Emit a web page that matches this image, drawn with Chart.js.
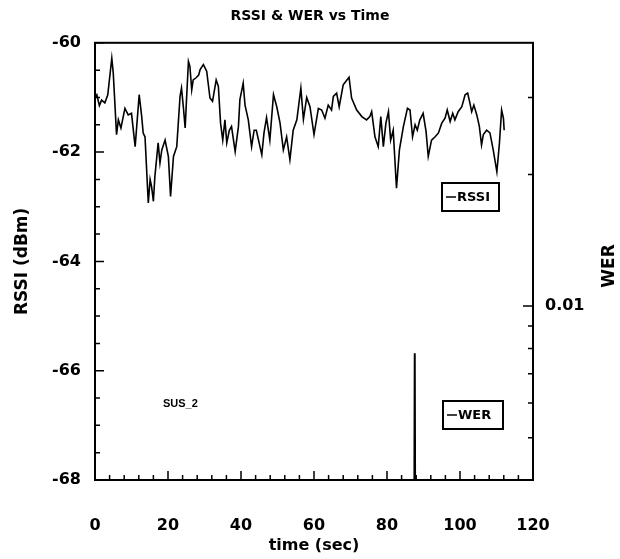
<!DOCTYPE html>
<html>
<head>
<meta charset="utf-8">
<title>RSSI & WER vs Time</title>
<script src="https://cdn.jsdelivr.net/npm/chart.js@4"></script>
<style>
  html, body { margin: 0; padding: 0; background: #fff; }
  #wrap { width: 620px; height: 559px; }
</style>
</head>
<body>
<div id="wrap"><canvas id="rssiChart"></canvas></div>
<script>
// received signal strength, sampled over the run
const rssiTime = [
  0, 0.5, 1.2, 1.8, 2.7, 3.5, 4.6, 5.0, 5.9, 6.4,
  7.1, 8.2, 9.1, 10.0, 11.0, 12.1, 12.8, 13.2, 13.7, 14.6,
  15.1, 15.5, 16.0, 16.4, 17.3, 17.8, 18.3, 19.2, 20.1, 20.7,
  21.5, 22.4, 23.3, 23.7, 24.2, 24.7, 25.1, 25.6, 26.0, 26.5,
  26.9, 27.7, 28.4, 28.8, 29.7, 30.6, 31.5, 32.2, 33.2, 33.8,
  34.4, 35.0, 35.6, 36.1, 36.8, 37.4, 38.4, 39.3, 39.7, 40.6,
  41.1, 42.0, 42.9, 43.6, 44.2, 45.7, 46.3, 47.0, 47.9, 48.9,
  49.8, 50.7, 51.6, 52.5, 53.4, 54.3, 55.3, 56.4, 57.1, 58.0,
  58.9, 60.0, 61.2, 62.1, 63.0, 63.9, 64.8, 65.3, 66.2, 66.9,
  68.0, 69.6, 70.3, 71.7, 73.1, 74.4, 75.3, 75.8, 76.7, 77.6,
  78.3, 79.0, 79.7, 80.4, 81.0, 81.7, 82.6, 83.4, 84.5, 85.6,
  86.3, 87.0, 87.7, 88.3, 89.0, 89.9, 90.7, 91.3, 92.2, 93.2,
  94.1, 95.0, 95.9, 96.5, 97.3, 98.0, 98.6, 99.5, 100.5, 101.4,
  102.1, 102.7, 103.2, 103.8, 104.6, 105.3, 105.9, 106.4, 107.3, 108.2,
  109.1, 110.1, 110.8, 111.4, 111.9, 112.1
];
const rssiDbm = [
  -61.0, -60.95, -61.15, -61.05, -61.1, -60.95, -60.28, -60.55, -61.68, -61.41,
  -61.56, -61.2, -61.32, -61.29, -61.9, -60.95, -61.35, -61.65, -61.72, -62.93,
  -62.5, -62.63, -62.9, -62.45, -61.83, -62.2, -61.96, -61.78, -62.08, -62.81,
  -62.08, -61.9, -60.98, -60.83, -61.17, -61.56, -61.0, -60.34, -60.43, -60.86,
  -60.68, -60.64, -60.59, -60.49, -60.4, -60.52, -61.01, -61.07, -60.68, -60.8,
  -61.47, -61.78, -61.41, -61.83, -61.6, -61.53, -61.99, -61.53, -61.04, -60.74,
  -61.14, -61.41, -61.9, -61.6, -61.6, -62.05, -61.65, -61.37, -61.78, -60.95,
  -61.17, -61.47, -61.96, -61.72, -62.14, -61.6, -61.41, -60.83, -61.4, -61.0,
  -61.17, -61.68, -61.2, -61.23, -61.38, -61.14, -61.23, -60.98, -60.92, -61.17,
  -60.77, -60.63, -61.01, -61.23, -61.35, -61.41, -61.35, -61.26, -61.72, -61.9,
  -61.35, -61.9, -61.47, -61.26, -61.78, -61.6, -62.66, -61.96, -61.53, -61.2,
  -61.23, -61.72, -61.5, -61.6, -61.41, -61.29, -61.62, -62.08, -61.78, -61.72,
  -61.65, -61.47, -61.38, -61.23, -61.44, -61.29, -61.41, -61.26, -61.17, -60.95,
  -60.92, -61.1, -61.26, -61.14, -61.32, -61.53, -61.87, -61.68, -61.6, -61.65,
  -61.96, -62.36, -61.84, -61.23, -61.38, -61.6
];

// word error rate: one burst of errors, zero elsewhere (off the log axis)
const werTime = [87.2, 87.6, 88.0];
const werValue = [0.0005, 0.0078, 0.0005];

const timeTicks = [0, 20, 40, 60, 80, 100, 120];
const rssiTicks = [-68, -66, -64, -62, -60];
const werTicks = [0.01];
const werMinorTicks = [0.004, 0.005, 0.006, 0.007, 0.008, 0.009, 0.02, 0.03];

Chart.defaults.font.family = "'DejaVu Sans', sans-serif";
Chart.defaults.font.weight = 'bold';
Chart.defaults.color = '#000';

// frame, inward tick marks, legend boxes and the right-hand axis title
const axisMarks = {
  id: 'axisMarks',
  afterDraw(chart) {
    const { ctx, chartArea: a, scales: { x, y, y2 } } = chart;
    ctx.save();
    ctx.strokeStyle = '#000';
    ctx.lineWidth = 1.5;

    ctx.beginPath();
    for (let t = 0; t <= 120; t += 4) {
      const px = x.getPixelForValue(t);
      const len = t % 20 === 0 ? 9 : 5;
      ctx.moveTo(px, a.bottom);
      ctx.lineTo(px, a.bottom - len);
    }
    for (let v = -68; v <= -60; v += 0.5) {
      const py = y.getPixelForValue(v);
      const len = v % 2 === 0 ? 9 : 5;
      ctx.moveTo(a.left, py);
      ctx.lineTo(a.left + len, py);
    }
    werTicks.forEach(v => {
      const py = y2.getPixelForValue(v);
      ctx.moveTo(a.right, py);
      ctx.lineTo(a.right - 10, py);
    });
    werMinorTicks.forEach(v => {
      const py = y2.getPixelForValue(v);
      ctx.moveTo(a.right, py);
      ctx.lineTo(a.right - 5, py);
    });
    ctx.stroke();

    ctx.lineWidth = 2;
    ctx.strokeRect(a.left, a.top, a.right - a.left, a.bottom - a.top);

    // per-series legend boxes
    const boxes = [
      { label: 'RSSI', x: 442, y: 183, w: 57, h: 28 },
      { label: 'WER', x: 443, y: 401, w: 60, h: 28 }
    ];
    ctx.font = "bold 13px 'DejaVu Sans', sans-serif";
    ctx.textBaseline = 'middle';
    ctx.textAlign = 'left';
    ctx.fillStyle = '#000';
    boxes.forEach(b => {
      ctx.lineWidth = 2;
      ctx.strokeRect(b.x, b.y, b.w, b.h);
      ctx.lineWidth = 1.5;
      ctx.beginPath();
      ctx.moveTo(b.x + 4, b.y + b.h / 2);
      ctx.lineTo(b.x + 14, b.y + b.h / 2);
      ctx.stroke();
      ctx.fillText(b.label, b.x + 15, b.y + b.h / 2 + 1);
    });

    // run identifier
    ctx.font = "bold 11px 'Liberation Sans Narrow', 'Liberation Sans', sans-serif";
    ctx.fillText('SUS_2', 163, 404);

    // right axis title, reading upwards
    ctx.font = "bold 17px 'DejaVu Sans', sans-serif";
    ctx.translate(610, 266);
    ctx.rotate(-Math.PI / 2);
    ctx.textAlign = 'center';
    ctx.fillText('WER', 0, 0);
    ctx.restore();
  }
};

new Chart(document.getElementById('rssiChart'), {
  type: 'line',
  data: {
    datasets: [
      {
        label: 'RSSI',
        data: rssiTime.map((t, i) => ({ x: t, y: rssiDbm[i] })),
        borderColor: '#000',
        borderWidth: 1.6,
        pointRadius: 0,
        tension: 0,
        xAxisID: 'x',
        yAxisID: 'y'
      },
      {
        label: 'WER',
        data: werTime.map((t, i) => ({ x: t, y: werValue[i] })),
        borderColor: '#000',
        borderWidth: 2,
        pointRadius: 0,
        tension: 0,
        clip: 0,
        xAxisID: 'x',
        yAxisID: 'y2'
      }
    ]
  },
  options: {
    responsive: true,
    maintainAspectRatio: false,
    animation: false,
    layout: { padding: 0 },
    plugins: {
      legend: { display: false },
      tooltip: { enabled: false },
      title: {
        display: true,
        text: 'RSSI & WER vs Time',
        font: { size: 14, weight: 'bold' },
        color: '#000',
        padding: { top: 8, bottom: 18 }
      }
    },
    scales: {
      x: {
        type: 'linear',
        position: 'bottom',
        min: 0,
        max: 120,
        afterBuildTicks: s => { s.ticks = timeTicks.map(v => ({ value: v })); },
        afterFit: s => { s.height = 79; },
        grid: { display: false, drawTicks: false },
        border: { display: false },
        ticks: { padding: 36, font: { size: 16, weight: 'bold' }, maxRotation: 0 },
        title: {
          display: true,
          text: 'time (sec)',
          font: { size: 16, weight: 'bold' },
          padding: { top: 0, bottom: 4 }
        }
      },
      y: {
        type: 'linear',
        position: 'left',
        min: -68,
        max: -60,
        afterBuildTicks: s => { s.ticks = rssiTicks.map(v => ({ value: v })); },
        afterFit: s => { s.width = 95; },
        grid: { display: false, drawTicks: false },
        border: { display: false },
        ticks: { padding: 14, font: { size: 16, weight: 'bold' } },
        title: {
          display: true,
          text: 'RSSI (dBm)',
          font: { size: 17, weight: 'bold' },
          padding: { top: 12, bottom: 0 }
        }
      },
      y2: {
        type: 'logarithmic',
        position: 'right',
        min: 0.004,
        max: 0.04,
        afterBuildTicks: s => { s.ticks = werTicks.map(v => ({ value: v })); },
        afterFit: s => { s.width = 87; },
        grid: { display: false, drawTicks: false },
        border: { display: false },
        ticks: {
          padding: 12,
          font: { size: 16, weight: 'bold' },
          callback: v => v.toFixed(2)
        }
      }
    }
  },
  plugins: [axisMarks]
});
</script>
</body>
</html>
